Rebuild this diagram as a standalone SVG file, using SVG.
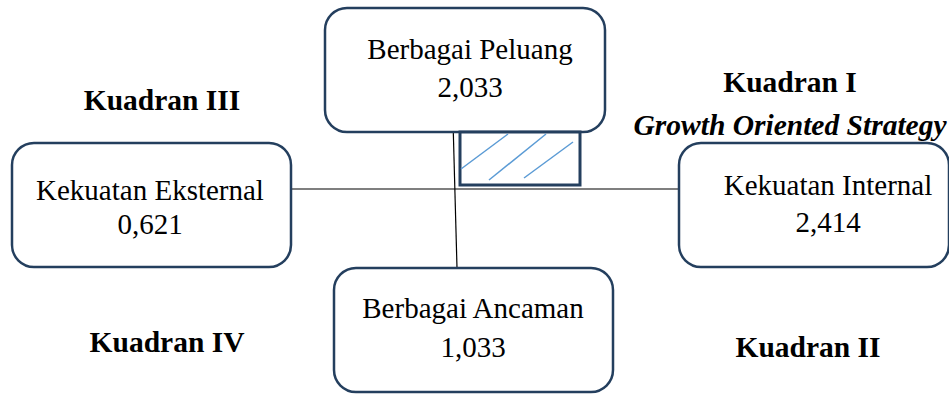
<svg xmlns="http://www.w3.org/2000/svg" width="949" height="396" viewBox="0 0 949 396">
<style>
.box{fill:#fff;stroke:#243f5e;stroke-width:2.5}
.t{font-family:"Liberation Serif","Times New Roman",serif;font-size:29px;fill:#000;text-anchor:middle}
.q{font-family:"Liberation Serif","Times New Roman",serif;font-size:29.5px;font-weight:bold;fill:#000;text-anchor:middle}
.ln{stroke:#000;stroke-width:1.2;fill:none}
.h{stroke:#5b9bd5;stroke-width:1.5}
</style>
<rect width="949" height="396" fill="#fff"/>
<g id="connectors">
<line class="ln" x1="291" y1="189" x2="679" y2="189"/>
<line class="ln" x1="453" y1="121" x2="457" y2="268"/>
</g>
<g id="peluang">
<rect class="box" x="325" y="8" width="280" height="124" rx="22"/>
<text class="t" x="470" y="59">Berbagai Peluang</text>
<text class="t" x="470" y="97">2,033</text>
</g>
<g id="hatch">
<rect x="460" y="132" width="120" height="53" fill="#fff" stroke="#243f5e" stroke-width="3"/>
<line class="h" x1="461" y1="169" x2="508" y2="134"/>
<line class="h" x1="489" y1="180" x2="546" y2="134"/>
<line class="h" x1="524" y1="178" x2="573" y2="142"/>
</g>
<g id="eksternal">
<rect class="box" x="12" y="143" width="279" height="124" rx="22"/>
<text class="t" x="150" y="200">Kekuatan Eksternal</text>
<text class="t" x="150" y="234">0,621</text>
</g>
<g id="internal">
<rect class="box" x="679" y="143" width="270" height="124" rx="22"/>
<text class="t" x="828" y="195">Kekuatan Internal</text>
<text class="t" x="828" y="232">2,414</text>
</g>
<g id="ancaman">
<rect class="box" x="334" y="268" width="279" height="124" rx="22"/>
<text class="t" x="473" y="318">Berbagai Ancaman</text>
<text class="t" x="473" y="357">1,033</text>
</g>
<g id="labels">
<text class="q" x="162" y="110">Kuadran III</text>
<text class="q" x="790" y="92">Kuadran I</text>
<text class="q" x="790" y="135" font-style="italic">Growth Oriented Strategy</text>
<text class="q" x="167" y="352">Kuadran IV</text>
<text class="q" x="808" y="357">Kuadran II</text>
</g>
</svg>
